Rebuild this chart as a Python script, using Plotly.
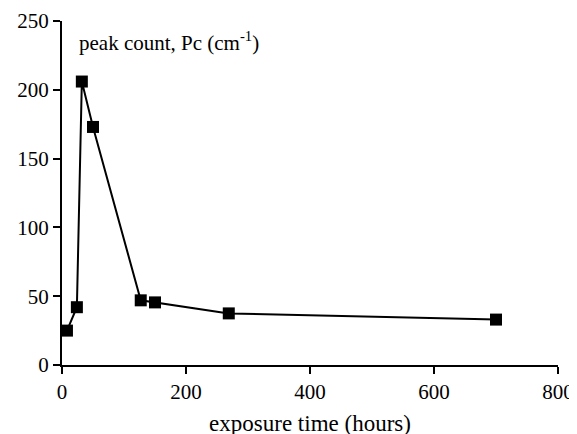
import plotly.graph_objects as go

exposure_hours = [8, 24, 32, 50, 127, 150, 269, 700]
peak_count = [25, 42, 206, 173, 47, 45.5, 37.5, 33]
x_ticks = [0, 200, 400, 600, 800]
y_ticks = [0, 50, 100, 150, 200, 250]

fig = go.Figure(go.Scatter(
    x=exposure_hours, y=peak_count, mode="lines+markers",
    line=dict(color="black", width=2),
    marker=dict(symbol="square", size=12, color="black"),
))

font = dict(family="Liberation Serif", color="black", size=21)
fig.update_layout(
    width=577, height=434,
    margin=dict(l=54, r=27, t=13, b=77),
    paper_bgcolor="white", plot_bgcolor="white",
    showlegend=False, font=font,
    xaxis=dict(range=[0, 800], tickvals=x_ticks, showgrid=False, zeroline=False,
               showline=True, linecolor="black", linewidth=2, automargin=False,
               ticks="outside", ticklen=7, tickwidth=2, tickcolor="black",
               tickfont=dict(size=21, family="Liberation Serif"),
               title=dict(text="exposure time (hours)", standoff=12,
                          font=dict(size=23, family="Liberation Serif"))),
    yaxis=dict(range=[0, 250], tickvals=y_ticks, showgrid=False, zeroline=False,
               showline=True, linecolor="black", linewidth=2, automargin=False,
               ticks="outside", ticklen=7, tickwidth=2, tickcolor="black",
               tickfont=dict(size=21, family="Liberation Serif")),
    annotations=[dict(text="peak count, Pc (cm<sup>-1</sup>)", xref="paper", yref="paper",
                      x=0.03, y=0.94, xanchor="left", yanchor="middle", showarrow=False,
                      font=dict(size=21, family="Liberation Serif"))],
)
fig.write_html("out.html")
